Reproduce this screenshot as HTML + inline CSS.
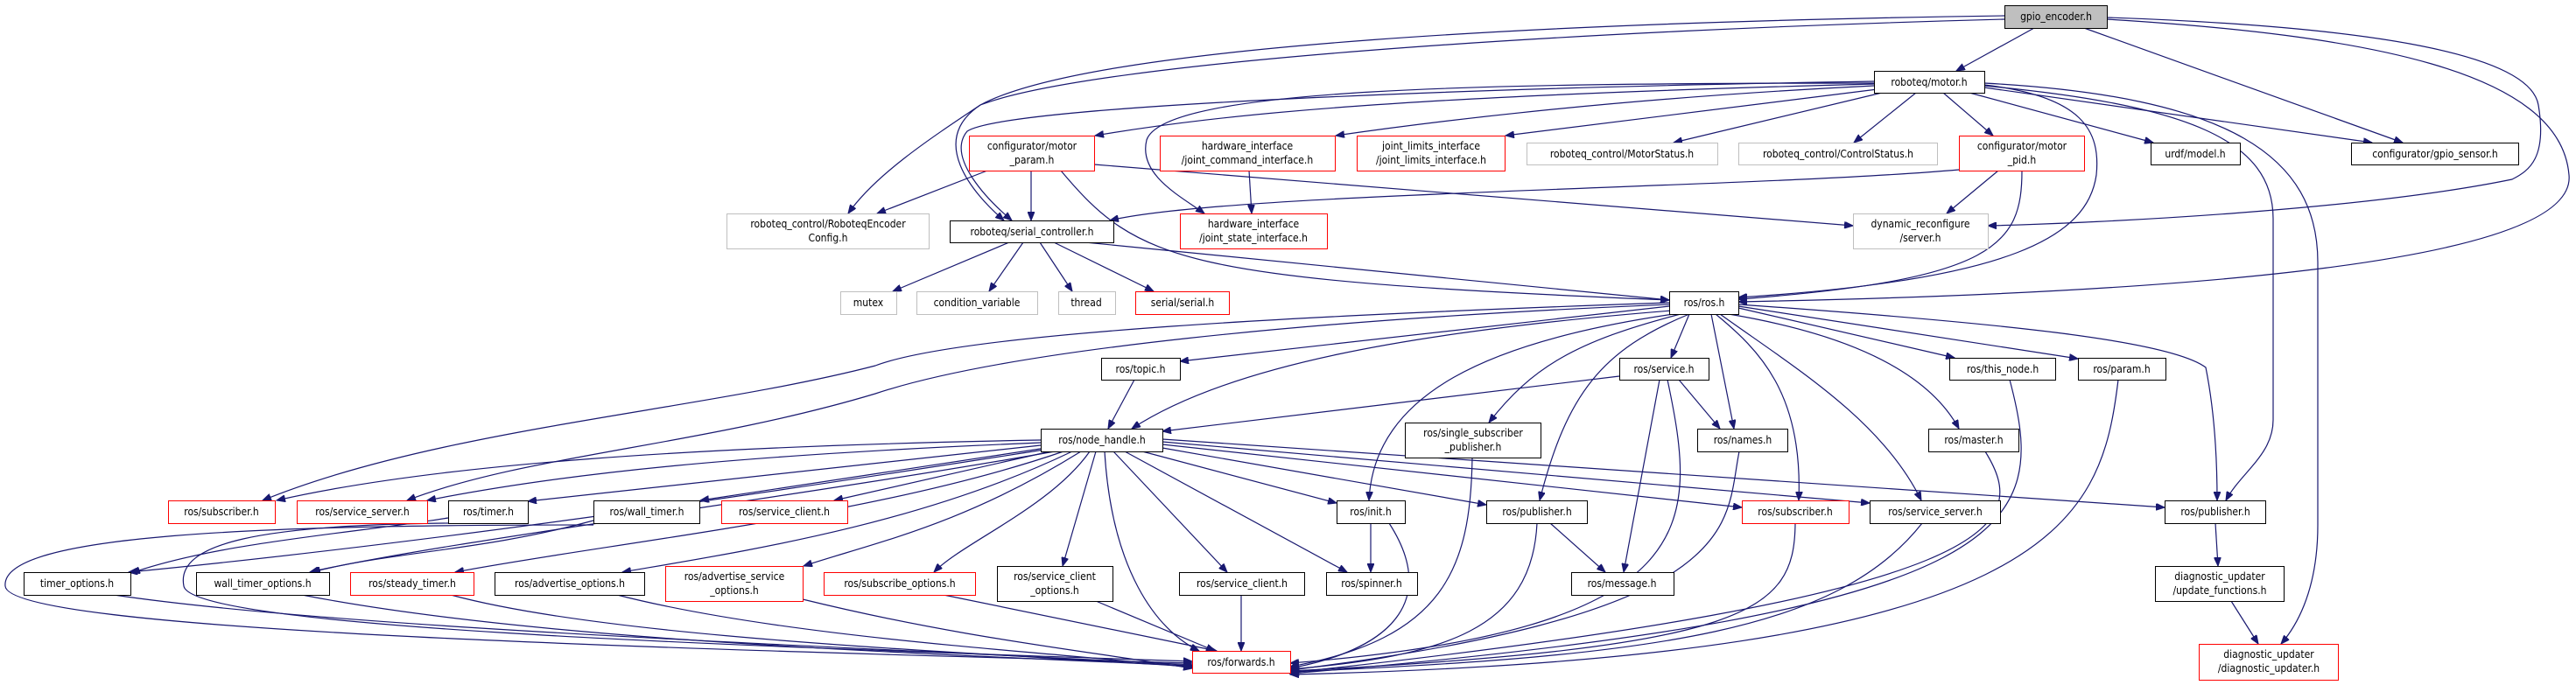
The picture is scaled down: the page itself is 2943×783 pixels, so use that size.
<!DOCTYPE html>
<html><head><meta charset="utf-8"><style>
html,body{margin:0;padding:0;background:#fff}
svg{display:block}
text{font-family:"DejaVu Sans Condensed","Liberation Sans",sans-serif;font-size:12px;fill:#000;text-anchor:middle}
.e{fill:none;stroke:#191970;stroke-width:1.2;marker-end:url(#ah)}
.b{fill:#fff;stroke:#000;stroke-width:1}
.r{fill:#fff;stroke:#ff0000;stroke-width:1}
.g{fill:#fff;stroke:#bfbfbf;stroke-width:1}
</style></head><body>
<svg width="2943" height="783" viewBox="0 0 2943 783" xmlns="http://www.w3.org/2000/svg">
<defs><marker id="ah" markerUnits="userSpaceOnUse" markerWidth="11" markerHeight="8" refX="10" refY="4" orient="auto"><path d="M0,0 L10,4 L0,8 z" fill="#191970" stroke="#191970"/></marker></defs>
<g>
<path class="e" d="M2324,32 L2235,81"/>
<path class="e" d="M2381,32 L2745,163"/>
<path class="e" d="M2290,18 C1800,25 1250,50 1120,120 C1060,160 1000,200 969,244"/>
<path class="e" d="M2290,22 C1800,35 1250,70 1120,120 C1060,160 1110,220 1147,252"/>
<path class="e" d="M2141,93 C1700,100 1150,120 1105,150 C1080,180 1130,230 1156,252"/>
<path class="e" d="M2407,20 C2700,30 2890,60 2900,120 C2910,180 2890,195 2870,205 C2700,240 2400,255 2271,258"/>
<path class="e" d="M2407,22 C2700,40 2925,80 2935,200 C2945,300 2500,335 1986,345"/>
<path class="e" d="M2141,96 C1600,110 1400,130 1251,155"/>
<path class="e" d="M2141,98 C1900,110 1700,130 1526,155"/>
<path class="e" d="M2145,102 L1720,155"/>
<path class="e" d="M2150,106 L1912,163"/>
<path class="e" d="M2189,106 L2118,163"/>
<path class="e" d="M2220,106 L2277,155"/>
<path class="e" d="M2250,106 L2460,163"/>
<path class="e" d="M2267,100 L2710,163"/>
<path class="e" d="M2141,95 C1700,95 1330,100 1310,160 C1300,200 1350,225 1376,244"/>
<path class="e" d="M2267,97 C2380,110 2400,150 2395,200 C2385,270 2300,320 1986,340"/>
<path class="e" d="M2310,195 C2310,280 2280,320 1986,342"/>
<path class="e" d="M1212,195 C1300,300 1350,320 1907,343"/>
<path class="e" d="M2267,98 C2500,120 2597,160 2597,250 L2597,480 C2597,520 2560,540 2543,572"/>
<path class="e" d="M2267,95 C2550,110 2648,180 2648,300 L2648,600 C2648,680 2620,720 2606,736"/>
<path class="e" d="M1128,195 L1002,244"/>
<path class="e" d="M1178,195 L1178,252"/>
<path class="e" d="M1250,188 L2117,258"/>
<path class="e" d="M2238,194 C2000,215 1400,220 1268,252"/>
<path class="e" d="M2283,195 L2224,244"/>
<path class="e" d="M1427,195 L1430,244"/>
<path class="e" d="M1153,277 L1020,333"/>
<path class="e" d="M1169,277 L1130,333"/>
<path class="e" d="M1188,277 L1225,333"/>
<path class="e" d="M1204,277 L1318,333"/>
<path class="e" d="M1240,277 L1907,343"/>
<path class="e" d="M1907,346 C1500,360 1100,380 1000,418 C800,470 500,490 300,572"/>
<path class="e" d="M1907,348 C1500,365 1150,400 1000,450 C800,510 600,520 465,572"/>
<path class="e" d="M1907,350 L1348,413"/>
<path class="e" d="M1910,355 C1600,380 1400,420 1293,490"/>
<path class="e" d="M1930,359 L1909,409"/>
<path class="e" d="M1920,359 C1800,390 1750,420 1701,483"/>
<path class="e" d="M1912,359 C1700,390 1570,450 1564,572"/>
<path class="e" d="M1930,359 C1830,400 1790,450 1759,572"/>
<path class="e" d="M1955,359 L1981,490"/>
<path class="e" d="M1960,359 C2010,400 2060,450 2055,572"/>
<path class="e" d="M1965,359 C2050,420 2150,480 2195,572"/>
<path class="e" d="M1975,359 C2100,380 2200,420 2238,490"/>
<path class="e" d="M1986,352 L2233,409"/>
<path class="e" d="M1986,350 L2374,410"/>
<path class="e" d="M1986,348 C2300,370 2480,390 2520,420 C2530,470 2533,520 2533,572"/>
<path class="e" d="M1296,434 L1266,490"/>
<path class="e" d="M1850,430 L1328,493"/>
<path class="e" d="M1918,434 L1965,490"/>
<path class="e" d="M1896,434 L1855,654"/>
<path class="e" d="M1905,434 C1940,600 1950,720 1474,758"/>
<path class="e" d="M1682,523 C1680,650 1650,730 1474,762"/>
<path class="e" d="M1566,598 L1566,654"/>
<path class="e" d="M1587,598 C1640,680 1600,740 1474,764"/>
<path class="e" d="M1771,598 L1834,654"/>
<path class="e" d="M1756,598 C1750,720 1650,750 1474,765"/>
<path class="e" d="M1987,516 C1970,600 2000,700 1474,766"/>
<path class="e" d="M2051,598 C2050,700 2000,740 1474,767"/>
<path class="e" d="M2196,598 C2100,720 1900,750 1474,768"/>
<path class="e" d="M2268,516 C2320,600 2300,680 1474,769"/>
<path class="e" d="M2296,434 C2340,600 2320,700 1474,770"/>
<path class="e" d="M2420,434 C2400,600 2350,750 1474,771"/>
<path class="e" d="M2531,598 L2534,647"/>
<path class="e" d="M2549,687 L2580,736"/>
<path class="e" d="M1189,503 C800,510 500,530 316,572"/>
<path class="e" d="M1189,506 C850,520 650,540 488,572"/>
<path class="e" d="M1189,509 L603,573"/>
<path class="e" d="M1195,512 L800,572"/>
<path class="e" d="M1200,516 L953,572"/>
<path class="e" d="M1193,514 C900,560 500,620 147,654"/>
<path class="e" d="M1205,516 C900,570 500,620 354,654"/>
<path class="e" d="M1215,516 C1000,590 700,620 520,654"/>
<path class="e" d="M1225,516 C1050,600 850,630 711,654"/>
<path class="e" d="M1235,516 C1100,600 1000,620 918,647"/>
<path class="e" d="M1245,516 C1200,580 1100,620 1067,654"/>
<path class="e" d="M1252,516 L1214,647"/>
<path class="e" d="M1272,516 L1402,654"/>
<path class="e" d="M1285,516 L1539,654"/>
<path class="e" d="M1305,516 L1527,575"/>
<path class="e" d="M1328,512 L1698,577"/>
<path class="e" d="M1328,508 L1990,580"/>
<path class="e" d="M1328,505 L2136,575"/>
<path class="e" d="M1328,502 L2473,580"/>
<path class="e" d="M1262,516 C1270,650 1320,720 1370,744"/>
<path class="e" d="M512,592 C400,610 250,620 150,655"/>
<path class="e" d="M512,598 C300,600 200,620 210,670 C220,720 900,740 1362,756"/>
<path class="e" d="M678,595 C550,630 450,630 356,654"/>
<path class="e" d="M678,600 C300,600 0,610 6,670 C10,720 700,740 1362,758"/>
<path class="e" d="M130,680 C400,720 1000,740 1362,760"/>
<path class="e" d="M345,680 C600,730 1000,745 1362,761"/>
<path class="e" d="M515,680 C700,730 1100,745 1362,762"/>
<path class="e" d="M705,680 C900,730 1200,745 1362,763"/>
<path class="e" d="M917,685 C1100,730 1250,745 1362,764"/>
<path class="e" d="M1078,680 L1390,744"/>
<path class="e" d="M1252,687 L1388,744"/>
<path class="e" d="M1418,680 L1418,744"/>
</g>
<g>
<rect x="2290.5" y="6.5" width="117" height="26" fill="#bfbfbf" stroke="#000"/><text x="2349" y="23">gpio_encoder.h</text>
<rect class="b" x="2141.5" y="81.5" width="126" height="25"/><text x="2204" y="98">roboteq/motor.h</text>
<rect class="r" x="1107.5" y="155.5" width="143" height="40"/><text x="1179" y="171">configurator/motor</text><text x="1179" y="187">_param.h</text>
<rect class="r" x="1325.5" y="155.5" width="200" height="40"/><text x="1425" y="171">hardware_interface</text><text x="1425" y="187">/joint_command_interface.h</text>
<rect class="r" x="1550.5" y="155.5" width="169" height="40"/><text x="1635" y="171">joint_limits_interface</text><text x="1635" y="187">/joint_limits_interface.h</text>
<rect class="g" x="1744.5" y="163.5" width="218" height="25"/><text x="1853" y="180">roboteq_control/MotorStatus.h</text>
<rect class="g" x="1986.5" y="163.5" width="227" height="25"/><text x="2100" y="180">roboteq_control/ControlStatus.h</text>
<rect class="r" x="2238.5" y="155.5" width="143" height="40"/><text x="2310" y="171">configurator/motor</text><text x="2310" y="187">_pid.h</text>
<rect class="b" x="2457.5" y="163.5" width="102" height="25"/><text x="2508" y="180">urdf/model.h</text>
<rect class="b" x="2686.5" y="163.5" width="191" height="25"/><text x="2782" y="180">configurator/gpio_sensor.h</text>
<rect class="g" x="830.5" y="244.5" width="231" height="40"/><text x="946" y="260">roboteq_control/RoboteqEncoder</text><text x="946" y="276">Config.h</text>
<rect class="b" x="1085.5" y="252.5" width="187" height="25"/><text x="1179" y="269">roboteq/serial_controller.h</text>
<rect class="r" x="1348.5" y="244.5" width="168" height="40"/><text x="1432" y="260">hardware_interface</text><text x="1432" y="276">/joint_state_interface.h</text>
<rect class="g" x="2117.5" y="244.5" width="154" height="40"/><text x="2194" y="260">dynamic_reconfigure</text><text x="2194" y="276">/server.h</text>
<rect class="g" x="960.5" y="333.5" width="64" height="26"/><text x="992" y="350">mutex</text>
<rect class="g" x="1047.5" y="333.5" width="138" height="26"/><text x="1116" y="350">condition_variable</text>
<rect class="g" x="1209.5" y="333.5" width="65" height="26"/><text x="1241" y="350">thread</text>
<rect class="r" x="1297.5" y="333.5" width="107" height="26"/><text x="1351" y="350">serial/serial.h</text>
<rect class="b" x="1907.5" y="333.5" width="79" height="26"/><text x="1947" y="350">ros/ros.h</text>
<rect class="b" x="1258.5" y="409.5" width="90" height="25"/><text x="1303" y="426">ros/topic.h</text>
<rect class="b" x="1850.5" y="409.5" width="102" height="25"/><text x="1901" y="426">ros/service.h</text>
<rect class="b" x="2227.5" y="409.5" width="121" height="25"/><text x="2288" y="426">ros/this_node.h</text>
<rect class="b" x="2374.5" y="409.5" width="100" height="25"/><text x="2424" y="426">ros/param.h</text>
<rect class="b" x="1189.5" y="490.5" width="139" height="26"/><text x="1259" y="507">ros/node_handle.h</text>
<rect class="b" x="1605.5" y="483.5" width="155" height="40"/><text x="1683" y="499">ros/single_subscriber</text><text x="1683" y="515">_publisher.h</text>
<rect class="b" x="1939.5" y="490.5" width="103" height="26"/><text x="1991" y="507">ros/names.h</text>
<rect class="b" x="2203.5" y="490.5" width="103" height="26"/><text x="2255" y="507">ros/master.h</text>
<rect class="r" x="192.5" y="572.5" width="122" height="26"/><text x="253" y="589">ros/subscriber.h</text>
<rect class="r" x="339.5" y="572.5" width="149" height="26"/><text x="414" y="589">ros/service_server.h</text>
<rect class="b" x="512.5" y="572.5" width="91" height="26"/><text x="558" y="589">ros/timer.h</text>
<rect class="b" x="678.5" y="572.5" width="121" height="26"/><text x="739" y="589">ros/wall_timer.h</text>
<rect class="r" x="824.5" y="572.5" width="144" height="26"/><text x="896" y="589">ros/service_client.h</text>
<rect class="b" x="1527.5" y="572.5" width="78" height="26"/><text x="1566" y="589">ros/init.h</text>
<rect class="b" x="1698.5" y="572.5" width="115" height="26"/><text x="1756" y="589">ros/publisher.h</text>
<rect class="r" x="1990.5" y="572.5" width="122" height="26"/><text x="2051" y="589">ros/subscriber.h</text>
<rect class="b" x="2136.5" y="572.5" width="149" height="26"/><text x="2211" y="589">ros/service_server.h</text>
<rect class="b" x="2473.5" y="572.5" width="115" height="26"/><text x="2531" y="589">ros/publisher.h</text>
<rect class="b" x="27.5" y="654.5" width="122" height="26"/><text x="88" y="671">timer_options.h</text>
<rect class="b" x="224.5" y="654.5" width="152" height="26"/><text x="300" y="671">wall_timer_options.h</text>
<rect class="r" x="400.5" y="654.5" width="141" height="26"/><text x="471" y="671">ros/steady_timer.h</text>
<rect class="b" x="565.5" y="654.5" width="171" height="26"/><text x="651" y="671">ros/advertise_options.h</text>
<rect class="r" x="760.5" y="647.5" width="157" height="40"/><text x="839" y="663">ros/advertise_service</text><text x="839" y="679">_options.h</text>
<rect class="r" x="941.5" y="654.5" width="173" height="26"/><text x="1028" y="671">ros/subscribe_options.h</text>
<rect class="b" x="1139.5" y="647.5" width="132" height="40"/><text x="1205" y="663">ros/service_client</text><text x="1205" y="679">_options.h</text>
<rect class="b" x="1347.5" y="654.5" width="143" height="26"/><text x="1419" y="671">ros/service_client.h</text>
<rect class="b" x="1515.5" y="654.5" width="104" height="26"/><text x="1567" y="671">ros/spinner.h</text>
<rect class="b" x="1795.5" y="654.5" width="117" height="26"/><text x="1853" y="671">ros/message.h</text>
<rect class="b" x="2462.5" y="647.5" width="147" height="40"/><text x="2536" y="663">diagnostic_updater</text><text x="2536" y="679">/update_functions.h</text>
<rect class="r" x="1362.5" y="744.5" width="112" height="25"/><text x="1418" y="761">ros/forwards.h</text>
<rect class="r" x="2512.5" y="736.5" width="159" height="41"/><text x="2592" y="752">diagnostic_updater</text><text x="2592" y="768">/diagnostic_updater.h</text>
</g>
</svg>
</body></html>
